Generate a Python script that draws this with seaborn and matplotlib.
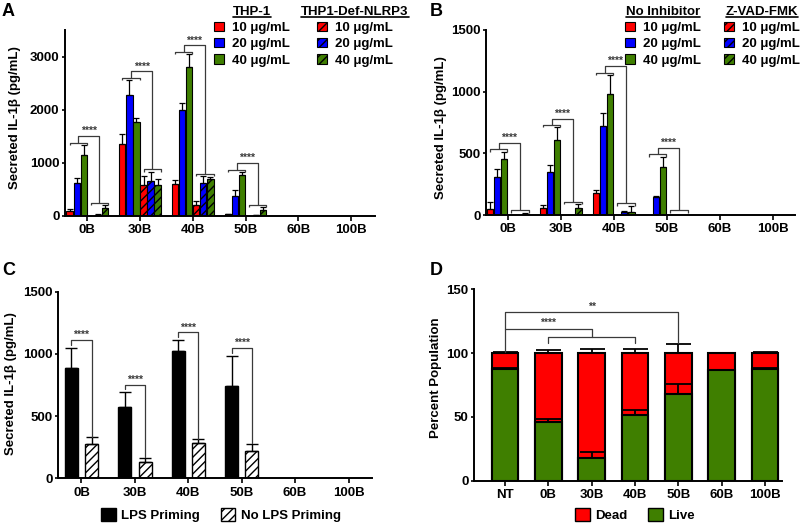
import numpy as np
import pandas as pd
import matplotlib
matplotlib.use("Agg")
import matplotlib.pyplot as plt
import seaborn as sns
from matplotlib.patches import Patch
from matplotlib.lines import Line2D

# ---------------- data ----------------
categories = ["0B", "30B", "40B", "50B", "60B", "100B"]
conc_labels = ["10 μg/mL", "20 μg/mL", "40 μg/mL"]

# Panel A: THP-1 vs THP1-Def-NLRP3
a_thp1_10 = [100, 1350, 600, 30, 0, 0]
a_thp1_10_err = [40, 200, 75, 15, 0, 0]
a_thp1_20 = [625, 2275, 2000, 380, 0, 0]
a_thp1_20_err = [95, 280, 130, 105, 0, 0]
a_thp1_40 = [1145, 1760, 2795, 770, 0, 0]
a_thp1_40_err = [190, 90, 250, 60, 0, 0]
a_def_10 = [0, 585, 205, 0, 0, 0]
a_def_10_err = [0, 175, 75, 0, 0, 0]
a_def_20 = [25, 660, 620, 20, 0, 0]
a_def_20_err = [10, 175, 130, 5, 0, 0]
a_def_40 = [145, 585, 695, 115, 0, 0]
a_def_40_err = [60, 105, 45, 50, 0, 0]
a_sig = ["****", "****", "****", "****"]

# Panel B: No inhibitor vs Z-VAD-FMK
b_noinh_10 = [50, 58, 175, 0, 0, 0]
b_noinh_10_err = [55, 22, 27, 0, 0, 0]
b_noinh_20 = [308, 350, 725, 143, 0, 0]
b_noinh_20_err = [68, 57, 100, 14, 0, 0]
b_noinh_40 = [454, 608, 984, 392, 0, 0]
b_noinh_40_err = [60, 103, 151, 81, 0, 0]
b_zvad_10 = [0, 0, 0, 0, 0, 0]
b_zvad_10_err = [0, 0, 0, 0, 0, 0]
b_zvad_20 = [0, 0, 25, 0, 0, 0]
b_zvad_20_err = [0, 0, 8, 0, 0, 0]
b_zvad_40 = [5, 54, 22, 0, 0, 0]
b_zvad_40_err = [15, 35, 54, 0, 0, 0]
b_sig = ["****", "****", "****", "****"]

# Panel C: LPS priming
c_lps = [883, 576, 1023, 744, 0, 0]
c_lps_err = [167, 115, 88, 241, 0, 0]
c_nolps = [276, 134, 286, 222, 0, 0]
c_nolps_err = [53, 32, 27, 54, 0, 0]
c_sig = ["****", "****", "****", "****"]

# Panel D: viability
d_groups = ["NT", "0B", "30B", "40B", "50B", "60B", "100B"]
d_live = [87.8, 45.6, 18.0, 51.3, 67.5, 86.3, 87.4]
d_live_err = [0.8, 3.0, 4.0, 4.0, 8.0, 0.5, 1.0]
d_dead = [12.2, 54.4, 82.0, 48.7, 32.5, 13.7, 12.6]
d_dead_err = [0.5, 2.0, 3.0, 3.0, 7.0, 0.3, 0.8]

RED, BLUE, GREEN = "#FF0000", "#0000FF", "#3F7F00"
BR = "#3a3a3a"

# ---------------- style ----------------
sns.set_theme(style="ticks")
plt.rcParams["font.family"] = ["Liberation Sans", "DejaVu Sans"]
plt.rcParams["font.weight"] = "bold"
plt.rcParams["axes.labelweight"] = "bold"
plt.rcParams["text.color"] = "black"
plt.rcParams["axes.labelcolor"] = "black"
plt.rcParams["hatch.linewidth"] = 1.0
plt.rcParams["hatch.color"] = "black"

FS = 9.5

fig = plt.figure(figsize=(8, 5.23), dpi=100)
axA = fig.add_axes([65/800, 1-216/523, 310/800, 186/523])
axB = fig.add_axes([486/800, 1-215/523, 309/800, 185/523])
axC = fig.add_axes([58/800, 1-478.3/523, 314/800, 186.6/523])
axD = fig.add_axes([474/800, 1-480.5/523, 307.7/800, 191.2/523])


def style_axis(ax, ymax, yticks, xlim, ylabel, lab_xy):
    ax.set_ylim(0, ymax)
    ax.set_yticks(yticks)
    ax.set_xlim(*xlim)
    ax.set_xlabel("")
    ax.set_ylabel(ylabel, fontsize=FS, fontweight="bold", color="black")
    ax.yaxis.set_label_coords(*lab_xy)
    sns.despine(ax=ax)
    for s in ["left", "bottom"]:
        ax.spines[s].set_linewidth(1.4)
        ax.spines[s].set_color("black")
    ax.tick_params(axis="x", length=3.5, width=1.2, labelsize=FS, pad=2.5, colors="black")
    ax.tick_params(axis="y", length=2.5, width=1.2, labelsize=FS, pad=1.5, colors="black")
    for lab in ax.get_xticklabels() + ax.get_yticklabels():
        lab.set_fontweight("bold")


def grouped_panel(ax, series, names, colors, ymax, sig):
    rows = []
    for name, (vals, errs) in zip(names, series):
        for c, v, e in zip(categories, vals, errs):
            rows.append(dict(cat=c, series=name, value=v, err=e))
    df = pd.DataFrame(rows)
    sns.barplot(data=df, x="cat", y="value", hue="series", order=categories,
                hue_order=names, palette=dict(zip(names, colors)), errorbar=None,
                width=0.8, gap=0.12, saturation=1, edgecolor="black",
                linewidth=0.8, legend=False, ax=ax)
    nh, nc = len(names), len(categories)
    centers = np.zeros((nh, nc))
    tops = np.zeros((nh, nc))
    bw = 0
    for h, name in enumerate(names):
        sub = df[df.series == name].set_index("cat")
        for p in ax.containers[h]:
            xc = p.get_x() + p.get_width() / 2
            bw = p.get_width()
            i = int(round(xc))
            centers[h, i] = xc
            tops[h, i] = sub.loc[categories[i], "value"] + sub.loc[categories[i], "err"]
            if h >= 3:
                p.set_hatch("////")
        vals = sub.loc[categories, "value"].values
        errs = sub.loc[categories, "err"].values
        m = errs > 0
        xs = centers[h][m]
        ax.errorbar(xs, vals[m], yerr=[np.zeros(m.sum()), errs[m]], fmt="none",
                    ecolor="black", elinewidth=0.9, capsize=2.2, capthick=0.9, zorder=4)
    # significance brackets
    off = 0.012 * ymax
    for i, s in enumerate(sig):
        xl0, xl1 = centers[0, i], centers[2, i] + 0.5 * bw
        xr0, xr1 = centers[3, i], centers[5, i] + 0.5 * bw
        hl = tops[:3, i].max() + off
        hr = max(tops[3:, i].max() + off, 0.025 * ymax)
        H = hl + 0.035 * ymax
        ml, mr = (xl0 + xl1) / 2, (xr0 + xr1) / 2
        kw = dict(color=BR, lw=0.9, solid_capstyle="butt", zorder=5)
        ax.plot([xl0, xl0, xl1, xl1], [hl - off, hl, hl, hl - off], **kw)
        ax.plot([xr0, xr0, xr1, xr1], [hr - off, hr, hr, hr - off], **kw)
        ax.plot([ml, ml, mr, mr], [hl, H, H, hr], **kw)
        ax.text((ml + mr) / 2, H, s, ha="center", va="bottom", fontsize=7.5,
                fontweight="bold", color=BR)


# ---------------- Panel A ----------------
namesA = ["THP-1 10", "THP-1 20", "THP-1 40", "Def 10", "Def 20", "Def 40"]
colors6 = [RED, BLUE, GREEN, RED, BLUE, GREEN]
grouped_panel(axA,
              [(a_thp1_10, a_thp1_10_err), (a_thp1_20, a_thp1_20_err), (a_thp1_40, a_thp1_40_err),
               (a_def_10, a_def_10_err), (a_def_20, a_def_20_err), (a_def_40, a_def_40_err)],
              namesA, colors6, 3500, a_sig)
style_axis(axA, 3500, [0, 1000, 2000, 3000], (-0.42, 5.45),
           "Secreted IL-1β (pg/mL)", (-0.142, 0.53))

# ---------------- Panel B ----------------
namesB = ["NI 10", "NI 20", "NI 40", "ZV 10", "ZV 20", "ZV 40"]
grouped_panel(axB,
              [(b_noinh_10, b_noinh_10_err), (b_noinh_20, b_noinh_20_err), (b_noinh_40, b_noinh_40_err),
               (b_zvad_10, b_zvad_10_err), (b_zvad_20, b_zvad_20_err), (b_zvad_40, b_zvad_40_err)],
              namesB, colors6, 1500, b_sig)
style_axis(axB, 1500, [0, 500, 1000, 1500], (-0.41, 5.42),
           "Secreted IL-1β (pg/mL)", (-0.126, 0.47))

# ---------------- Panel C ----------------
rowsC = []
for c, v, e in zip(categories, c_lps, c_lps_err):
    rowsC.append(dict(cat=c, cond="LPS Priming", value=v, err=e))
for c, v, e in zip(categories, c_nolps, c_nolps_err):
    rowsC.append(dict(cat=c, cond="No LPS Priming", value=v, err=e))
dfC = pd.DataFrame(rowsC)
condsC = ["LPS Priming", "No LPS Priming"]
sns.barplot(data=dfC, x="cat", y="value", hue="cond", order=categories, hue_order=condsC,
            palette={"LPS Priming": "black", "No LPS Priming": "white"}, errorbar=None,
            width=0.76, gap=0.36, saturation=1, edgecolor="black", linewidth=1.0,
            legend=False, ax=axC)
cC = np.zeros((2, len(categories)))
tC = np.zeros((2, len(categories)))
for h, cond in enumerate(condsC):
    sub = dfC[dfC.cond == cond].set_index("cat")
    for p in axC.containers[h]:
        xc = p.get_x() + p.get_width() / 2
        i = int(round(xc))
        cC[h, i] = xc
        tC[h, i] = sub.loc[categories[i], "value"] + sub.loc[categories[i], "err"]
        if h == 1:
            p.set_hatch("////")
    vals = sub.loc[categories, "value"].values
    errs = sub.loc[categories, "err"].values
    m = errs > 0
    axC.errorbar(cC[h][m], vals[m], yerr=[np.zeros(m.sum()), errs[m]], fmt="none",
                 ecolor="black", elinewidth=1.0, capsize=4.5, capthick=1.0, zorder=4)
for i, s in enumerate(c_sig):
    y = tC[:, i].max() + 0.041 * 1500
    kw = dict(color=BR, lw=0.9, zorder=5)
    axC.plot([cC[0, i], cC[0, i], cC[1, i], cC[1, i]],
             [y - 0.025 * 1500, y, y, tC[1, i] + 0.004 * 1500], **kw)
    axC.text((cC[0, i] + cC[1, i]) / 2, y, s, ha="center", va="bottom",
             fontsize=7.5, fontweight="bold", color=BR)
style_axis(axC, 1500, [0, 500, 1000, 1500], (-0.44, 5.44),
           "Secreted IL-1β (pg/mL)", (-0.131, 0.51))

# ---------------- Panel D ----------------
dfD = pd.DataFrame({"group": d_groups, "live": d_live, "dead": d_dead,
                    "live_err": d_live_err, "dead_err": d_dead_err})
dfD["total"] = dfD["live"] + dfD["dead"]
sns.barplot(data=dfD, x="group", y="total", order=d_groups, color=RED, saturation=1,
            width=0.615, edgecolor="black", linewidth=1.5, errorbar=None, ax=axD)
sns.barplot(data=dfD, x="group", y="live", order=d_groups, color=GREEN, saturation=1,
            width=0.615, edgecolor="black", linewidth=1.5, errorbar=None, ax=axD)
xD = np.array([p.get_x() + p.get_width() / 2 for p in axD.containers[0]])
n = len(d_groups)
axD.errorbar(xD, dfD["total"], yerr=[np.zeros(n), dfD["dead_err"]], fmt="none",
             ecolor="black", elinewidth=1.3, capsize=9, capthick=1.3, zorder=4)
axD.errorbar(xD, dfD["live"], yerr=[np.zeros(n), dfD["live_err"]], fmt="none",
             ecolor="black", elinewidth=1.3, capsize=9, capthick=1.3, zorder=4)
topsD = (dfD["total"] + dfD["dead_err"]).values
kw = dict(color=BR, lw=0.9, zorder=5)
# ** : NT vs 50B
y2 = 132
axD.plot([xD[0], xD[0], xD[4], xD[4]], [topsD[0] + 0.5, y2, y2, topsD[4] + 0.5], **kw)
axD.text((xD[0] + xD[4]) / 2, y2 + 0.5, "**", ha="center", va="bottom", fontsize=7.5,
         fontweight="bold", color=BR)
# **** : NT vs (0B, 30B, 40B)
y4, yb = 119, 112.5
axD.plot([xD[0], xD[2], xD[2]], [y4, y4, yb], **kw)
axD.plot([xD[1], xD[1], xD[3], xD[3]],
         [max(topsD[1], topsD[3]) + 4.5, yb, yb, max(topsD[1], topsD[3]) + 4.5], **kw)
axD.text((xD[0] + xD[2]) / 2, y4 + 0.5, "****", ha="center", va="bottom", fontsize=7.5,
         fontweight="bold", color=BR)
style_axis(axD, 150, [0, 50, 100, 150], (-0.72, 6.39), "Percent Population", (-0.104, 0.54))

# ---------------- legends ----------------
legkw = dict(frameon=False, fontsize=FS, title_fontsize=FS, handlelength=0.7,
             handleheight=0.7, handletextpad=0.6, labelspacing=0.3, borderpad=0,
             borderaxespad=0, loc="upper center")
hA1 = [Patch(facecolor=c, edgecolor="black", lw=0.8) for c in [RED, BLUE, GREEN]]
hA2 = [Patch(facecolor=c, edgecolor="black", lw=0.8, hatch="////") for c in [RED, BLUE, GREEN]]
legs_ul = []
for handles, title, cx in [(hA1, "THP-1", 252), (hA2, "THP1-Def-NLRP3", 355),
                           (hA1, "No Inhibitor", 663), (hA2, "Z-VAD-FMK", 762)]:
    lg = fig.legend(handles=handles, labels=conc_labels, title=title,
                    bbox_to_anchor=(cx / 800, 1 - 6 / 523), **legkw)
    lg.get_title().set_fontweight("bold")
    legs_ul.append(lg)

fig.legend(handles=[Patch(facecolor="black", edgecolor="black"),
                    Patch(facecolor="white", edgecolor="black", hatch="////")],
           labels=condsC, ncol=2, frameon=False, fontsize=FS, handlelength=1.1,
           handleheight=1.1, handletextpad=0.4, columnspacing=1.6, loc="center",
           bbox_to_anchor=(221 / 800, 1 - 515 / 523))
fig.legend(handles=[Patch(facecolor=RED, edgecolor="black"),
                    Patch(facecolor=GREEN, edgecolor="black")],
           labels=["Dead", "Live"], ncol=2, frameon=False, fontsize=FS, handlelength=1.1,
           handleheight=1.1, handletextpad=0.4, columnspacing=1.6, loc="center",
           bbox_to_anchor=(635 / 800, 1 - 515 / 523))

# panel letters
for txt, x, y in [("A", 2, 3), ("B", 430, 3), ("C", 2, 262), ("D", 430, 262)]:
    fig.text(x / 800, 1 - y / 523, txt, fontsize=13, fontweight="bold", va="top", ha="left")

# underline legend titles
fig.canvas.draw()
r = fig.canvas.get_renderer()
inv = fig.transFigure.inverted()
for lg in legs_ul:
    bb = lg.get_title().get_window_extent(r)
    (x0, y0), (x1, y1) = inv.transform([(bb.x0, bb.y0 + 1.5), (bb.x1, bb.y1)])
    fig.add_artist(Line2D([x0, x1], [y0, y0], transform=fig.transFigure,
                          color="black", lw=1.2))

fig.savefig("out.png", dpi=100)
